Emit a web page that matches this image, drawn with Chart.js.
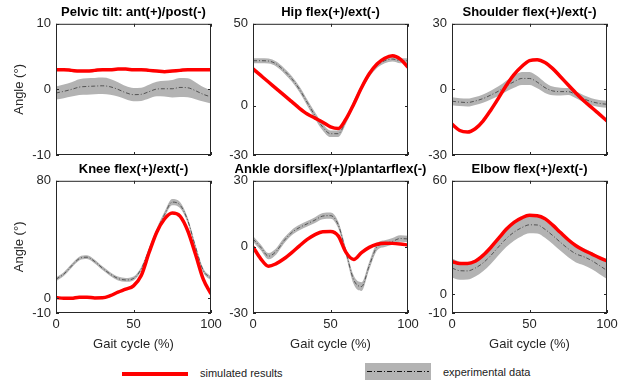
<!DOCTYPE html>
<html>
<head>
<meta charset="utf-8">
<script src="https://cdn.jsdelivr.net/npm/chart.js@4.4.0/dist/chart.umd.min.js"></script>
<style>
  body { margin: 0; background: #fff; width: 633px; height: 387px; position: relative; overflow: hidden;
         font-family: "Liberation Sans", Arial, sans-serif; }
  canvas { position: absolute; }
  .ttl { position: absolute; font-weight: bold; font-size: 13px; color: #000; white-space: nowrap;
         line-height: 16px; transform: translateX(-50%); }
  .leg { position: absolute; font-size: 11px; color: #222; line-height: 14px; white-space: nowrap; }
</style>
</head>
<body>
<div class="leg" style="left:122px;top:372px;width:66px;height:4px;background:#ff0000"></div>
<div class="leg" style="left:200px;top:366px">simulated results</div>
<div class="leg" style="left:365px;top:363px;width:66px;height:17px;background:#b3b3b3"></div>
<div class="leg" style="left:367px;top:371px;width:62px;height:1px;
  background:repeating-linear-gradient(to right,#111 0 5px,transparent 5px 7px,#111 7px 8px,transparent 8px 10px)"></div>
<div class="leg" style="left:443px;top:365px">experimental data</div>

<script>
// gait cycle samples (%)
const gait = [0, 5, 10, 15, 20, 25, 30, 35, 40, 45, 50, 55, 60, 65, 70, 75, 80, 85, 90, 95, 100];
const xTicks = [0, 50, 100];

const titles = ['Pelvic tilt: ant(+)/post(-)', 'Hip flex(+)/ext(-)', 'Shoulder flex(+)/ext(-)',
                'Knee flex(+)/ext(-)', 'Ankle dorsiflex(+)/plantarflex(-)', 'Elbow flex(+)/ext(-)'];
const yMin = [-10, -30, -30, -10, -30, -10];
const yMax = [10, 50, 30, 80, 30, 60];

// simulated results
const pelvisSim = [3.0, 3.0, 2.9, 2.8, 2.8, 2.9, 3.0, 3.0, 3.1, 3.1, 3.0, 3.0, 2.9, 2.8, 2.7, 2.8, 2.9, 3.0, 3.0, 3.0, 3.0];
const hipSim = [22.5, 18.5, 14.5, 10.5, 6.5, 2.5, -1.5, -5, -7.5, -10, -12.8, -13.8, -8, 1, 11, 19.5, 25.5, 29, 30.5, 28.5, 23.5];
const shoulderSim = [-15.9, -18.8, -19.5, -18, -14.5, -9.5, -4, 1.8, 6.8, 10.5, 13.2, 13.6, 12.3, 9.5, 5.8, 2, -1.7, -5.2, -8.2, -11.3, -14.4];
const kneeSim = [0.5, 0, 0, 0.8, 0.8, 0.2, 0.3, 1.8, 4.2, 6.2, 8.5, 15.5, 31, 45, 54, 58, 56, 46, 30, 13, 3];
const ankleSim = [0, -5.4, -8.8, -7.6, -5.4, -2.6, 0.5, 3.4, 5.6, 6.9, 7, 5, -2.5, -5.7, -2.6, -0.2, 1.2, 1.7, 1.6, 1.3, 0.9];
const elbowSim = [17.2, 16.2, 16.2, 17.4, 20.5, 24.7, 29.5, 34.3, 38, 40.4, 41.7, 41.5, 39.9, 36.5, 32.6, 28.8, 25.6, 23.2, 21.3, 19.3, 17.6];

// experimental data: mean and standard deviation
const pelvisExp = [-0.55, -0.3, 0, 0.35, 0.45, 0.5, 0.55, 0.4, 0, -0.5, -0.8, -0.75, -0.35, 0.05, 0.1, 0.1, 0.3, 0.25, -0.2, -0.75, -1.15];
const pelvisSd = [1.0, 1.05, 1.1, 1.2, 1.25, 1.25, 1.25, 1.2, 1.1, 1.0, 1.0, 1.0, 1.05, 1.1, 1.2, 1.35, 1.45, 1.45, 1.3, 1.1, 1.0];
const hipExp = [27.5, 27.5, 27.3, 25.5, 21.5, 16.5, 10, 2, -6, -13, -17, -17, -9, 1.5, 11, 19, 24.5, 27.5, 28.5, 27.5, 27.5];
const hipSd = [1.5, 1.5, 1.5, 1.5, 1.6, 1.7, 1.8, 1.9, 2, 2, 2, 2, 2, 1.9, 1.8, 1.6, 1.5, 1.5, 1.5, 1.5, 1.5];
const shoulderExp = [-5.4, -5.8, -6, -5.3, -4.2, -2.6, -0.8, 1.5, 3.5, 5, 5, 3.3, 0.8, -0.7, -1, -1, -2.5, -4.3, -5.6, -6.4, -6.8];
const shoulderSd = [1.8, 1.8, 1.8, 1.8, 1.9, 2, 2.2, 2.5, 2.8, 3, 3, 2.8, 2.4, 2, 1.8, 1.6, 1.6, 1.6, 1.6, 1.6, 1.6];
const kneeExp = [13, 16.5, 22, 27, 28, 25, 20.5, 16.5, 13.5, 12.5, 13.5, 20, 33, 46, 57, 65.5, 63.5, 53, 35, 19, 13.5];
const kneeSd = [1.3, 1.3, 1.3, 1.3, 1.3, 1.3, 1.3, 1.3, 1.3, 1.3, 1.3, 1.4, 1.5, 1.7, 1.9, 2.1, 2, 1.8, 1.6, 1.4, 1.3];
const ankleExp = [3.6, -0.2, -4.2, -2.0, 2.8, 6.5, 8.8, 10.5, 12.2, 14, 14.2, 10, -2.4, -15, -18, -8.5, 0, 1.5, 2.5, 3.8, 3.6];
const ankleSd = [1.3, 1.3, 1.4, 1.4, 1.3, 1.2, 1.2, 1.2, 1.3, 1.4, 1.4, 1.5, 1.7, 2, 2, 1.8, 1.6, 1.5, 1.5, 1.5, 1.5];
const elbowExp = [13.8, 12.4, 12.3, 13.8, 16.5, 20.4, 25, 29.4, 32.8, 35.2, 36.7, 36.6, 34.3, 31, 27.4, 24, 21.3, 19.8, 17.8, 15.2, 12.5];
const elbowSd = [5, 4.8, 4.6, 4.5, 4.4, 4.4, 4.4, 4.5, 4.5, 4.5, 4.5, 4.5, 4.5, 4.5, 4.5, 4.5, 4.5, 4.5, 4.5, 4.5, 4.5];

const sims = [pelvisSim, hipSim, shoulderSim, kneeSim, ankleSim, elbowSim];
const exps = [pelvisExp, hipExp, shoulderExp, kneeExp, ankleExp, elbowExp];
const sds = [pelvisSd, hipSd, shoulderSd, kneeSd, ankleSd, elbowSd];

// layout of the 2x3 grid (page pixels of each plot box)
const colLeft = [56, 253, 452];
const plotW = 155;
const rowTop = [21, 178];
const rowH = [134, 135];
const axisW = 50, padTop = 10, padRight = 16, xAxisH = 40;

Chart.defaults.font.family = '"Liberation Sans", Arial, sans-serif';
Chart.defaults.font.size = 13;
Chart.defaults.color = '#262626';

// MATLAB-like box with inward tick marks
const boxTicks = {
  id: 'boxTicks',
  afterDatasetsDraw(chart) {
    const {ctx, chartArea: a, scales: {x, y}} = chart;
    ctx.save();
    ctx.strokeStyle = '#262626';
    ctx.lineWidth = 1;
    ctx.strokeRect(a.left + 0.5, a.top + 0.5, a.right - a.left - 1, a.bottom - a.top - 1);
    ctx.beginPath();
    x.ticks.forEach(t => {
      const px = Math.round(x.getPixelForValue(t.value)) + 0.5;
      ctx.moveTo(px, a.bottom); ctx.lineTo(px, a.bottom - 3);
      ctx.moveTo(px, a.top); ctx.lineTo(px, a.top + 3);
    });
    y.ticks.forEach(t => {
      const py = Math.round(y.getPixelForValue(t.value)) + 0.5;
      ctx.moveTo(a.left, py); ctx.lineTo(a.left + 3, py);
      ctx.moveTo(a.right, py); ctx.lineTo(a.right - 3, py);
    });
    ctx.stroke();
    ctx.restore();
  }
};

function pts(vals) { return gait.map((g, i) => ({x: g, y: vals[i]})); }

for (let i = 0; i < 6; i++) {
  const r = Math.floor(i / 3), c = i % 3;
  const bottomRow = r === 1, firstCol = c === 0;
  const canvas = document.createElement('canvas');
  canvas.width = axisW + plotW + padRight;
  canvas.height = padTop + rowH[r] + xAxisH;
  canvas.style.left = (colLeft[c] - axisW) + 'px';
  canvas.style.top = (rowTop[r] - padTop) + 'px';
  document.body.appendChild(canvas);

  const t = document.createElement('div');
  t.className = 'ttl';
  t.textContent = titles[i];
  t.style.left = (colLeft[c] + plotW / 2) + 'px';
  t.style.top = (rowTop[r] - 17) + 'px';
  document.body.appendChild(t);

  const lower = exps[i].map((m, k) => m - sds[i][k]);
  const upper = exps[i].map((m, k) => m + sds[i][k]);

  new Chart(canvas, {
    type: 'line',
    data: {
      datasets: [
        {data: pts(sims[i]), borderColor: '#ff0000', borderWidth: 3.5, pointRadius: 0,
         cubicInterpolationMode: 'monotone', fill: false},
        {data: pts(exps[i]), borderColor: '#3a3a3a', borderWidth: 0.8, borderDash: [4, 2, 1, 2], pointRadius: 0,
         cubicInterpolationMode: 'monotone', fill: false},
        {data: pts(lower), borderColor: 'rgba(0,0,0,0)', borderWidth: 0, pointRadius: 0,
         cubicInterpolationMode: 'monotone', fill: false},
        {data: pts(upper), borderColor: 'rgba(0,0,0,0)', borderWidth: 0, pointRadius: 0,
         cubicInterpolationMode: 'monotone', fill: '-1', backgroundColor: '#b3b3b3'}
      ]
    },
    options: {
      responsive: false,
      animation: false,
      devicePixelRatio: 1,
      layout: {padding: {left: 0, top: padTop, right: padRight, bottom: 0}},
      plugins: {legend: {display: false}, tooltip: {enabled: false}},
      scales: {
        x: {
          type: 'linear', min: 0, max: 100,
          afterBuildTicks: s => { s.ticks = xTicks.map(v => ({value: v})); },
          afterFit: s => { s.height = xAxisH; },
          grid: {display: false, drawTicks: false},
          border: {display: false},
          ticks: {display: bottomRow, padding: 4},
          title: {display: bottomRow, text: 'Gait cycle (%)', padding: {top: 0, bottom: 1}}
        },
        y: {
          type: 'linear', min: yMin[i], max: yMax[i],
          afterBuildTicks: s => { s.ticks = [yMin[i], 0, yMax[i]].map(v => ({value: v})); },
          afterFit: s => { s.width = axisW; },
          grid: {display: false, drawTicks: false},
          border: {display: false},
          ticks: {padding: 5},
          title: {display: firstCol, text: 'Angle (°)', padding: {top: 6, bottom: 0}}
        }
      }
    },
    plugins: [boxTicks]
  });
}
</script>
</body>
</html>
